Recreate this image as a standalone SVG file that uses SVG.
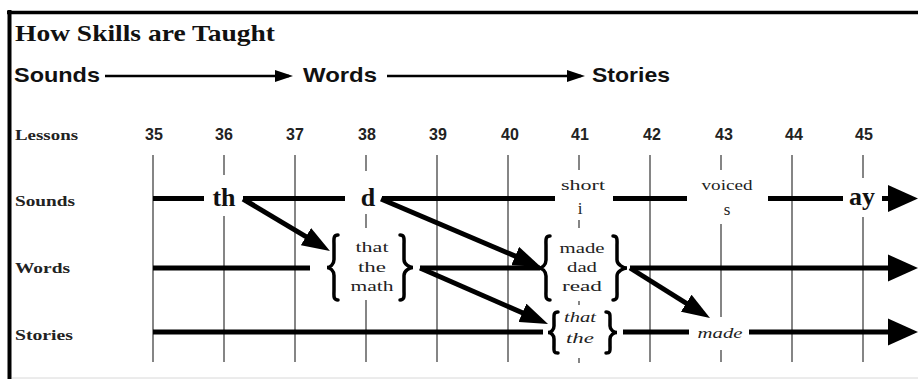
<svg xmlns="http://www.w3.org/2000/svg" width="918" height="379" viewBox="0 0 918 379">
<style>
.title{font-family:"Liberation Serif","DejaVu Serif",serif;font-weight:bold;font-size:23px;fill:#111}
.hdr{font-family:"Liberation Sans",Arial,sans-serif;font-weight:bold;font-size:21px;fill:#111}
.row{font-family:"Liberation Serif","DejaVu Serif",serif;font-weight:bold;font-size:15px;fill:#222}
.num{font-family:"Liberation Sans",Arial,sans-serif;font-weight:bold;font-size:16px;fill:#222;text-anchor:middle}
.big{font-family:"Liberation Serif","DejaVu Serif",serif;font-weight:bold;font-size:26px;fill:#111;text-anchor:middle}
.sm{font-family:"Liberation Serif","DejaVu Serif",serif;font-size:15px;fill:#222;text-anchor:middle}
.wd{font-family:"Liberation Serif","DejaVu Serif",serif;font-size:14px;fill:#222;text-anchor:middle}
.it{font-family:"Liberation Serif","DejaVu Serif",serif;font-style:italic;font-size:14px;fill:#222;text-anchor:middle}
.grid line{stroke:#858585;stroke-width:2}
.bar{stroke:#000;stroke-width:5;fill:none}
.brace{stroke:#000;stroke-width:3.5;fill:none;stroke-linecap:round}
.thin{stroke:#000;stroke-width:2.5}
</style>
<defs>
<marker id="ah" markerUnits="userSpaceOnUse" markerWidth="28" markerHeight="20" refX="20" refY="10" orient="auto"><path d="M0,0 L28,10 L0,20 z" fill="#000"/></marker>
<marker id="bigah" markerUnits="userSpaceOnUse" markerWidth="30" markerHeight="28" refX="22" refY="14" orient="auto"><path d="M0,0.5 L30,14 L0,27.5 z" fill="#000"/></marker>
<marker id="smah" markerUnits="userSpaceOnUse" markerWidth="18" markerHeight="12" refX="14" refY="6" orient="auto"><path d="M0,0 L18,6 L0,12 z" fill="#000"/></marker>
</defs>
<rect width="918" height="379" fill="#fff"/>
<g id="frame">
<line x1="9.5" y1="10" x2="9.5" y2="379" stroke="#000" stroke-width="4"/>
<line x1="7" y1="12.5" x2="918" y2="12.5" stroke="#000" stroke-width="3.5"/>
<line x1="12" y1="378" x2="918" y2="378" stroke="#d8d8d8" stroke-width="1"/>
</g>
<g id="title"><text class="title" x="15" y="41" textLength="260" lengthAdjust="spacingAndGlyphs">How Skills are Taught</text></g>
<g id="header">
<text class="hdr" x="14" y="82" textLength="86" lengthAdjust="spacingAndGlyphs">Sounds</text>
<text class="hdr" x="303" y="82" textLength="74" lengthAdjust="spacingAndGlyphs">Words</text>
<text class="hdr" x="592" y="82" textLength="78" lengthAdjust="spacingAndGlyphs">Stories</text>
<line class="thin" x1="105" y1="76" x2="289" y2="76" marker-end="url(#smah)"/>
<line class="thin" x1="387" y1="76" x2="581" y2="76" marker-end="url(#smah)"/>
</g>
<g id="row-labels">
<text class="row" x="15" y="140" textLength="63" lengthAdjust="spacingAndGlyphs">Lessons</text>
<text class="row" x="15" y="206" textLength="60" lengthAdjust="spacingAndGlyphs">Sounds</text>
<text class="row" x="15" y="273" textLength="55" lengthAdjust="spacingAndGlyphs">Words</text>
<text class="row" x="15" y="340" textLength="58" lengthAdjust="spacingAndGlyphs">Stories</text>
</g>
<g id="lesson-numbers">
<text class="num" x="154" y="140">35</text>
<text class="num" x="224" y="140">36</text>
<text class="num" x="295" y="140">37</text>
<text class="num" x="367" y="140">38</text>
<text class="num" x="438" y="140">39</text>
<text class="num" x="510" y="140">40</text>
<text class="num" x="580" y="140">41</text>
<text class="num" x="652" y="140">42</text>
<text class="num" x="724" y="140">43</text>
<text class="num" x="794" y="140">44</text>
<text class="num" x="864" y="140">45</text>
</g>
<g id="grid" class="grid">
<line x1="153" y1="155" x2="153" y2="362"/>
<line x1="224" y1="155" x2="224" y2="175"/><line x1="224" y1="216" x2="224" y2="362"/>
<line x1="295" y1="155" x2="295" y2="362"/>
<line x1="366" y1="155" x2="366" y2="171"/><line x1="366" y1="214" x2="366" y2="228"/><line x1="366" y1="300" x2="366" y2="362"/>
<line x1="437" y1="155" x2="437" y2="362"/>
<line x1="508" y1="155" x2="508" y2="362"/>
<line x1="579" y1="155" x2="579" y2="170"/><line x1="579" y1="220" x2="579" y2="228"/><line x1="579" y1="301" x2="579" y2="305"/><line x1="579" y1="358" x2="579" y2="363"/>
<line x1="650" y1="155" x2="650" y2="362"/>
<line x1="721" y1="155" x2="721" y2="170"/><line x1="721" y1="224" x2="721" y2="317"/><line x1="721" y1="350" x2="721" y2="362"/>
<line x1="792" y1="155" x2="792" y2="362"/>
<line x1="863" y1="155" x2="863" y2="178"/><line x1="863" y1="217" x2="863" y2="362"/>
</g>
<g id="sounds-row">
<line class="bar" x1="153" y1="198.5" x2="204" y2="198.5"/>
<line class="bar" x1="243" y1="198.5" x2="345" y2="198.5"/>
<line class="bar" x1="382" y1="198.5" x2="555" y2="198.5"/>
<line class="bar" x1="613" y1="198.5" x2="687" y2="198.5"/>
<line class="bar" x1="768" y1="198.5" x2="843" y2="198.5"/>
<line class="bar" x1="882" y1="198.5" x2="910" y2="198.5" marker-end="url(#bigah)"/>
</g>
<g id="node-th"><text class="big" x="224" y="206">th</text></g>
<g id="node-d"><text class="big" x="368" y="206">d</text></g>
<g id="node-short-i"><text class="sm" x="583" y="190" textLength="44" lengthAdjust="spacingAndGlyphs">short</text><text class="sm" x="580" y="214" style="font-size:17px">i</text></g>
<g id="node-voiced-s"><text class="sm" x="727" y="190" textLength="51" lengthAdjust="spacingAndGlyphs">voiced</text><text class="sm" x="727" y="215" style="font-size:17px">s</text></g>
<g id="node-ay"><text class="big" x="862" y="205">ay</text></g>
<g id="words-row">
<line class="bar" x1="153" y1="268" x2="310" y2="268"/>
<line class="bar" x1="420" y1="268" x2="540" y2="268"/>
<line class="bar" x1="630" y1="268" x2="910" y2="268" marker-end="url(#bigah)"/>
</g>
<g id="node-that-the-math">
<path class="brace" d="M338,235 C333,235 334,239 334,245 L334,259.5 C334,264.5 330,267.5 327,267.5 C330,267.5 334,270.5 334,275.5 L334,290 C334,296 333,300 338,300"/>
<path class="brace" d="M400,235 C405,235 404,239 404,245 L404,259.5 C404,264.5 410,267.5 413,267.5 C410,267.5 404,270.5 404,275.5 L404,290 C404,296 405,300 400,300"/>
<text class="wd" x="372" y="252" textLength="33" lengthAdjust="spacingAndGlyphs">that</text>
<text class="wd" x="372" y="272" textLength="28" lengthAdjust="spacingAndGlyphs">the</text>
<text class="wd" x="372" y="291" textLength="43" lengthAdjust="spacingAndGlyphs">math</text>
</g>
<g id="node-made-dad-read">
<path class="brace" d="M550,236 C545,236 546,240 546,246 L546,260 C546,265 542,268 539,268 C542,268 546,271 546,276 L546,290 C546,296 545,300 550,300"/>
<path class="brace" d="M613,236 C618,236 617,240 617,246 L617,260 C617,265 624,268 627,268 C624,268 617,271 617,276 L617,290 C617,296 618,300 613,300"/>
<text class="wd" x="582" y="253" textLength="45" lengthAdjust="spacingAndGlyphs">made</text>
<text class="wd" x="582" y="272" textLength="30" lengthAdjust="spacingAndGlyphs">dad</text>
<text class="wd" x="582" y="291" textLength="40" lengthAdjust="spacingAndGlyphs">read</text>
</g>
<g id="stories-row">
<line class="bar" x1="153" y1="332" x2="543" y2="332"/>
<line class="bar" x1="623" y1="332" x2="689" y2="332"/>
<line class="bar" x1="749" y1="332" x2="910" y2="332" marker-end="url(#bigah)"/>
</g>
<g id="node-that-the-italic">
<path class="brace" d="M558,312 C553,312 554,316 554,321 L554,326 C554,330 551,332.5 548,332.5 C551,332.5 554,335 554,339 L554,345 C554,350 553,353 558,353"/>
<path class="brace" d="M606,312 C611,312 610,316 610,321 L610,326 C610,330 614,332.5 617,332.5 C614,332.5 610,335 610,339 L610,345 C610,350 611,353 606,353"/>
<text class="it" x="580" y="322" textLength="32" lengthAdjust="spacingAndGlyphs">that</text>
<text class="it" x="580" y="343" textLength="28" lengthAdjust="spacingAndGlyphs">the</text>
</g>
<g id="node-made-italic"><text class="it" x="720" y="338" textLength="45" lengthAdjust="spacingAndGlyphs">made</text></g>
<g id="connectors">
<line class="bar" x1="243" y1="199" x2="323.1" y2="246.9" marker-end="url(#ah)"/>
<line class="bar" x1="381" y1="199" x2="533.6" y2="263.9" marker-end="url(#ah)"/>
<line class="bar" x1="420" y1="268" x2="540.7" y2="320.8" marker-end="url(#ah)"/>
<line class="bar" x1="630" y1="268" x2="703.2" y2="313.8" marker-end="url(#ah)"/>
</g>
</svg>
